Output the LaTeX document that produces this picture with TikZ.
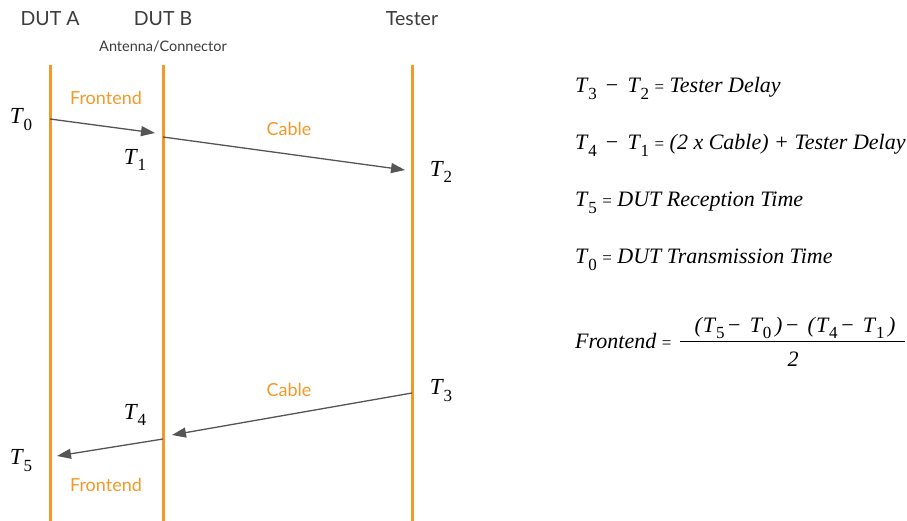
\documentclass[tikz,border=0pt]{standalone}
\usepackage{fontspec}
\setmainfont{Liberation Serif}
\newfontfamily\labelfont{Lato}
\usetikzlibrary{arrows.meta}
\definecolor{org}{RGB}{245,152,40}
\definecolor{arr}{RGB}{85,85,85}
\definecolor{txt}{RGB}{60,60,60}
\newcommand\TT[1]{\textit{T}\kern-0.02em\raisebox{-0.3em}{\fontsize{17}{17}\selectfont #1}}
\newcommand\mns{\ \,−\ \,}
\begin{document}
\begin{tikzpicture}[x=1pt,y=-1pt,
  life/.style={draw=org,line width=3pt},
  msg/.style={draw=arr,line width=1.3pt,-{Triangle[length=14pt,width=10pt]}},
  head/.style={font=\labelfont\fontsize{19.5}{19.5}\selectfont,text=txt,inner sep=0pt},
  sub/.style={font=\labelfont\fontsize{14.5}{14.5}\selectfont,text=txt,inner sep=0pt},
  seg/.style={font=\labelfont\fontsize{18}{18}\selectfont,text=org,inner sep=0pt},
  tlab/.style={font=\fontsize{23}{23}\selectfont,text=black,inner sep=0pt},
  eq/.style={font=\fontsize{22}{22}\selectfont,text=black,inner sep=0pt,anchor=base west}]
\useasboundingbox (0,0) rectangle (907,521);
% lifelines
\coordinate (a0) at (50,65);  \coordinate (a1) at (50,521);
\coordinate (b0) at (163,65); \coordinate (b1) at (163,521);
\coordinate (c0) at (412,65); \coordinate (c1) at (412,521);
\draw[life] (a0) -- (a1);
\draw[life] (b0) -- (b1);
\draw[life] (c0) -- (c1);
% headers
\node[head] (hA) at (50,19) {DUT A};
\node[head] (hB) at (163,19) {DUT B};
\node[head] (hC) at (412,19) {Tester};
\node[sub] (ant) at (163,46) {Antenna/Connector};
% segment labels
\node[seg] (f1) at (106,98) {Frontend};
\node[seg] (c1l) at (289,129) {Cable};
\node[seg] (c2l) at (289,390) {Cable};
\node[seg] (f2) at (106,485) {Frontend};
% message points
\coordinate (p0) at (50,119);  \coordinate (p1) at (155,133);
\coordinate (p2) at (163,137); \coordinate (p3) at (405,170);
\coordinate (p4) at (412,393); \coordinate (p5) at (172,435);
\coordinate (p6) at (163,439); \coordinate (p7) at (57,456);
\draw[msg] (p0) -- (p1);
\draw[msg] (p2) -- (p3);
\draw[msg] (p4) -- (p5);
\draw[msg] (p6) -- (p7);
% time labels
\node[tlab] (t0) at (21,120) {\TT{0}};
\node[tlab] (t1) at (135,160) {\TT{1}};
\node[tlab] (t2) at (441,172) {\TT{2}};
\node[tlab] (t3) at (441,391) {\TT{3}};
\node[tlab] (t4) at (135,415) {\TT{4}};
\node[tlab] (t5) at (21,461) {\TT{5}};
% equations
\node[eq] (e1) at (575,93) {\TT{3}\mns\TT{2} {\fontsize{17}{17}\selectfont=} \textit{Tester Delay}};
\node[eq] (e2) at (575,150) {\TT{4}\mns\TT{1} {\fontsize{17}{17}\selectfont=} \textit{(2 x Cable) + Tester Delay}};
\node[eq] (e3) at (575,207) {\TT{5} {\fontsize{17}{17}\selectfont=} \textit{DUT Reception Time}};
\node[eq] (e4) at (575,264) {\TT{0} {\fontsize{17}{17}\selectfont=} \textit{DUT Transmission Time}};
\node[eq] (e5) at (575,348) {\textit{Frontend} {\fontsize{17}{17}\selectfont=}};
\node[eq,anchor=base] (num) at (795,332) {\textit{(}\TT{5}\,−\ \,\TT{0}\,\textit{)}\,−\ \,\textit{(}\TT{4}\,−\ \,\TT{1}\,\textit{)}};
\node[eq,anchor=base] (den) at (793,366) {\textit{2}};
\coordinate (bar0) at (680,341); \coordinate (bar1) at (905,341);
\draw[line width=1pt] (bar0) -- (bar1);
\end{tikzpicture}
\end{document}
